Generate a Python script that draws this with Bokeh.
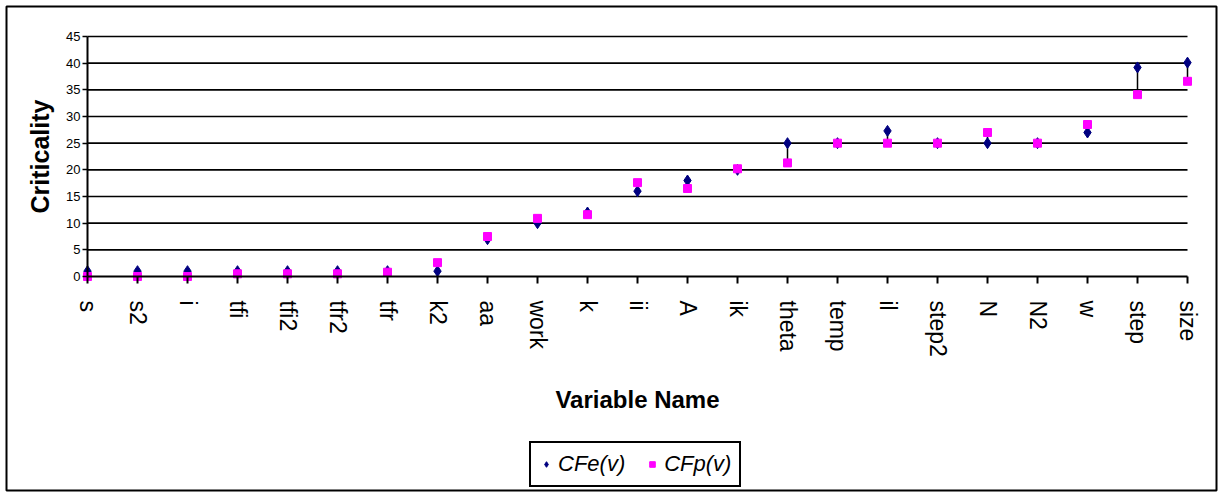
import math
from bokeh.plotting import figure
from bokeh.models import FixedTicker, Legend, LegendItem, ColumnDataSource, Range1d
from bokeh.embed import file_html
from bokeh.resources import INLINE

variables = ["s", "s2", "i", "tfi", "tfi2", "tfr2", "tfr", "k2", "aa", "work", "k", "ii",
             "A", "ik", "theta", "temp", "il", "step2", "N", "N2", "w", "step", "size"]
cfe = [1, 1, 1, 1, 1, 1, 1, 1, 7, 10, 12, 16, 18, 20, 25, 25, 27.3, 25, 25, 25, 27, 39.2, 40.1]
cfp = [0, 0, 0, 0.5, 0.5, 0.5, 0.8, 2.6, 7.5, 10.9, 11.6, 17.6, 16.5, 20.2, 21.3, 25, 25, 25, 27, 25, 28.5, 34.1, 36.6]
y_ticks = [0, 5, 10, 15, 20, 25, 30, 35, 40, 45]

xs = list(range(len(variables)))
n_last = len(variables) - 1

FONT = "Liberation Sans"

# the frame covers the whole chart area (outer box); axes sit at the data origin
p = figure(width=1218, height=492, output_backend="svg", toolbar_location=None,
           x_range=Range1d(-1.62, 22.58), y_range=Range1d(-40.125, 50.625),
           min_border_left=6, min_border_right=2, min_border_top=6, min_border_bottom=2)
p.title.visible = False
p.background_fill_color = "white"
p.border_fill_color = "white"
p.outline_line_color = "black"
p.outline_line_width = 2
p.outline_line_alpha = 1
p.xgrid.visible = False
p.ygrid.visible = False

# gridlines from the tick list, spanning the category extent
gy = y_ticks[1:]
p.segment(x0=[0] * len(gy), y0=gy, x1=[n_last] * len(gy), y1=gy, line_color="black", line_width=1.7)

# high-low lines
src = ColumnDataSource(dict(x=xs, cfe=cfe, cfp=cfp))
p.segment(x0="x", y0="cfe", x1="x", y1="cfp", source=src, line_color="black", line_width=1.5)

r_e = p.scatter("x", "cfe", source=src, marker="diamond", size=11,
                fill_color="#000080", line_color="#000080")
r_p = p.scatter("x", "cfp", source=src, marker="square", size=8,
                fill_color="#FF00FF", line_color="#FF00FF")

xa = p.xaxis[0]
xa.fixed_location = 0
xa.bounds = (0, n_last)
xa.ticker = FixedTicker(ticks=xs)
xa.major_label_overrides = {i: v for i, v in enumerate(variables)}
xa.major_label_orientation = -math.pi / 2
xa.major_label_text_font = FONT
xa.major_label_text_font_size = "23px"
xa.major_label_text_color = "black"
xa.major_label_standoff = 17
xa.major_tick_out = 7
xa.major_tick_in = 0
xa.minor_tick_out = 0
xa.minor_tick_in = 0
xa.axis_line_color = "black"
xa.axis_line_width = 2
xa.major_tick_line_color = "black"
xa.major_tick_line_width = 2
xa.axis_label = "Variable Name"
xa.axis_label_text_font = FONT
xa.axis_label_text_font_size = "24px"
xa.axis_label_text_font_style = "bold"
xa.axis_label_text_color = "black"
xa.axis_label_standoff = 26

ya = p.yaxis[0]
ya.fixed_location = 0
ya.bounds = (0, 45)
ya.ticker = FixedTicker(ticks=y_ticks)
ya.major_label_text_font = FONT
ya.major_label_text_font_size = "13px"
ya.major_label_text_color = "black"
ya.major_label_standoff = 2
ya.major_tick_out = 5
ya.major_tick_in = 0
ya.minor_tick_out = 0
ya.minor_tick_in = 0
ya.axis_line_color = "black"
ya.axis_line_width = 2
ya.major_tick_line_color = "black"
ya.major_tick_line_width = 1.5
ya.axis_label = "Criticality"
ya.axis_label_text_font = FONT
ya.axis_label_text_font_size = "25px"
ya.axis_label_text_font_style = "bold"
ya.axis_label_text_color = "black"
ya.axis_label_standoff = 9

legend = Legend(items=[LegendItem(label="CFe(v)", renderers=[r_e]),
                       LegendItem(label="CFp(v)", renderers=[r_p])],
                orientation="horizontal", location=(523, 3))
legend.label_text_font = FONT
legend.label_text_font_size = "22px"
legend.label_text_font_style = "italic"
legend.label_text_color = "black"
legend.border_line_color = "black"
legend.border_line_alpha = 1
legend.border_line_width = 2
legend.background_fill_alpha = 1
legend.glyph_width = 14
legend.glyph_height = 24
legend.label_standoff = 5
legend.spacing = 20
legend.padding = 8
legend.margin = 0
p.add_layout(legend, "center")

open("out.html", "w").write(file_html(p, INLINE))
